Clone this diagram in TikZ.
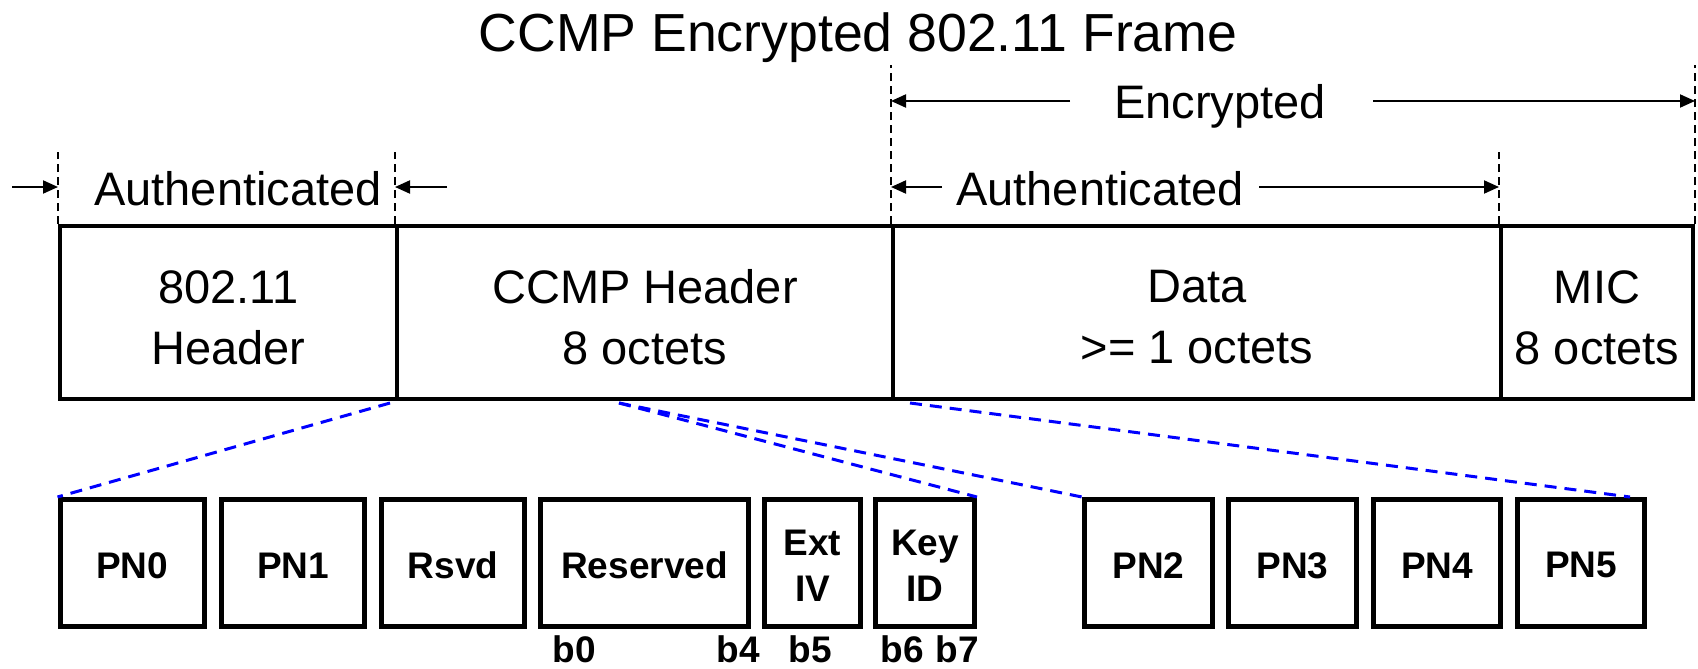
\documentclass[tikz,border=0pt]{standalone}
\usepackage{fontspec}
\setmainfont{Liberation Sans}
\usetikzlibrary{arrows.meta}
\begin{document}
\begin{tikzpicture}[x=0.5pt,y=-0.5pt,
  topbox/.style={draw, line width=2pt, minimum height=86.5pt, inner sep=0pt},
  boxtxt/.style={align=center, inner sep=0pt, yshift=-2.5pt, font=\fontsize{23.5}{30.5}\selectfont},
  bitbox/.style={draw, line width=2.5pt, minimum height=63.5pt, inner sep=0pt},
  bittxt/.style={align=center, inner sep=0pt, yshift=-1.2pt, font=\bfseries\fontsize{18.5}{23}\selectfont},
  lbl/.style={font=\fontsize{23.5}{28}\selectfont, inner sep=0pt, anchor=base},
  bitlbl/.style={font=\bfseries\fontsize{18.5}{22}\selectfont, inner sep=0pt, anchor=base},
  guide/.style={line width=1pt, dash pattern=on 4pt off 2.5pt},
  dim/.style={line width=1pt, -{Triangle[length=7.5pt,width=6.5pt]}},
  zoomline/.style={blue, line width=1.5pt, dash pattern=on 6pt off 4pt}
]
\useasboundingbox (0,0) rectangle (1698,669);

% title
\node[font=\fontsize{26.8}{30}\selectfont, anchor=base, inner sep=0pt] (title) at (858,51) {CCMP Encrypted 802.11 Frame};

% top frame
\node[topbox, minimum width=168.5pt, label={[boxtxt]center:{802.11\\Header}}] (hdr) at (228.5,312.5) {};
\node[topbox, minimum width=248pt, label={[boxtxt]center:{CCMP Header\\8 octets}}] (ccmp) at (645,312.5) {};
\node[topbox, minimum width=304pt, label={[boxtxt]center:{Data\\>= 1 octets}}] (data) at (1197,312.5) {};
\node[topbox, minimum width=96pt, label={[boxtxt]center:{MIC\\8 octets}}] (mic) at (1597,312.5) {};

% guide tops
\coordinate (gtA) at (0,152);
\coordinate (gtE) at (0,65);
\draw[guide] (hdr.north west) -- (hdr.north west |- gtA);
\draw[guide] (ccmp.north west) -- (ccmp.north west |- gtA);
\draw[guide] (data.north west) -- (data.north west |- gtE);
\draw[guide] (mic.north west) -- (mic.north west |- gtA);
\draw[guide] (mic.north east) -- (mic.north east |- gtE);

% labels
\node[lbl] (enc) at (1220,118) {Encrypted};
\node[lbl] (auth1) at (238,205) {Authenticated};
\node[lbl] (auth2) at (1100,205) {Authenticated};

% dimension arrows
\coordinate (a1l) at (12,187);
\coordinate (a1r) at (447,187);
\coordinate (a2l) at (942,187);
\coordinate (a2r) at (1259,187);
\coordinate (el) at (1070,101);
\coordinate (er) at (1373,101);
\draw[dim] (a1l) -- (a1l -| hdr.west);
\draw[dim] (a1r) -- (a1r -| ccmp.west);
\draw[dim] (a2l) -- (a2l -| data.west);
\draw[dim] (a2r) -- (a2r -| mic.west);
\draw[dim] (el) -- (el -| data.west);
\draw[dim] (er) -- (er -| mic.east);

% bottom fields
\node[bitbox, minimum width=72pt, label={[bittxt]center:PN0}] (pn0) at (132,563) {};
\node[bitbox, minimum width=71.5pt, label={[bittxt]center:PN1}] (pn1) at (293,563) {};
\node[bitbox, minimum width=71.5pt, label={[bittxt]center:Rsvd}] (rsvd) at (453,563) {};
\node[bitbox, minimum width=104pt, label={[bittxt]center:Reserved}] (res) at (644.5,563) {};
\node[bitbox, minimum width=48pt, label={[bittxt]center:{Ext\\IV}}] (ext) at (812.5,563) {};
\node[bitbox, minimum width=49.5pt, label={[bittxt]center:{Key\\ID}}] (key) at (925,563) {};
\node[bitbox, minimum width=64pt, label={[bittxt]center:PN2}] (pn2) at (1148.5,563) {};
\node[bitbox, minimum width=64pt, label={[bittxt]center:PN3}] (pn3) at (1292.5,563) {};
\node[bitbox, minimum width=63.5pt, label={[bittxt]center:PN4}] (pn4) at (1437,563) {};
\node[bitbox, minimum width=63.5pt, label={[bittxt]center:PN5}] (pn5) at (1581,563) {};

% bit labels
\node[bitlbl] (b0) at (574,662) {b0};
\node[bitlbl] (b4) at (738,662) {b4};
\node[bitlbl] (b5) at (810,662) {b5};
\node[bitlbl] (b6) at (902,662) {b6};
\node[bitlbl] (b7) at (957,662) {b7};

% zoom lines
\coordinate (za) at (390,403);
\coordinate (zc) at (619,403);
\coordinate (zd) at (910,403);
\coordinate (z5) at (1630,497);
\draw[zoomline] (za) -- (pn0.north west);
\draw[zoomline] (zc) -- (key.north east);
\draw[zoomline] (zc) -- (pn2.north west);
\draw[zoomline] (zd) -- (z5);
\end{tikzpicture}
\end{document}
